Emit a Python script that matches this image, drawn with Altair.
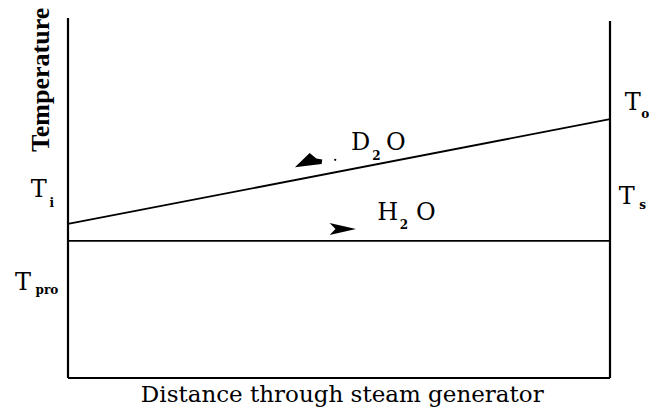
import altair as alt
import pandas as pd

# Schematic values (x: distance 0..100, y: temperature, arbitrary units)
d2o_x = [0, 100]
d2o_y = [42.8, 71.9]
h2o_x = [0, 100]
h2o_y = [38.1, 38.1]

# box lines (left, right, bottom)
box_x = [0, 100, 0]
box_x2 = [0, 100, 100]
box_y = [0, 0, 0]
box_y2 = [100, 99.2, 0]

# main labels
lab_text = ["T", "T", "T", "T", "D", "O", "H", "O"]
lab_x = [-5.4, -8.3, 104.2, 103.1, 54.0, 60.5, 59.0, 66.0]
lab_y = [52.2, 26.4, 76.4, 50.3, 65.3, 65.3, 45.8, 45.8]

# subscripts
sub_text = ["i", "pro", "o", "s", "2", "2"]
sub_x = [-3.0, -3.9, 106.5, 106.0, 56.9, 62.0]
sub_y = [48.6, 24.4, 73.4, 48.0, 61.8, 42.6]

# arrows
arr_x = [44.3, 50.7]
arr_y = [60.4, 41.4]
arr_dir = ["left", "right"]

W, H = 542, 360
xs = alt.Scale(domain=[0, 100], nice=False, zero=False)
ys = alt.Scale(domain=[0, 100], nice=False, zero=False)
FONT = "DejaVu Serif"

box = alt.Chart(pd.DataFrame({"x": box_x, "x2": box_x2, "y": box_y, "y2": box_y2})).mark_rule(
    color="black", strokeWidth=2.2
).encode(
    x=alt.X("x:Q", scale=xs, axis=None),
    x2="x2:Q",
    y=alt.Y("y:Q", scale=ys, axis=None),
    y2="y2:Q",
)

lines_df = pd.DataFrame({
    "x": d2o_x + h2o_x,
    "y": d2o_y + h2o_y,
    "s": ["D2O"] * 2 + ["H2O"] * 2,
})
lines = alt.Chart(lines_df).mark_line(color="black", strokeWidth=1.8).encode(
    x=alt.X("x:Q", scale=xs, axis=None),
    y=alt.Y("y:Q", scale=ys, axis=None),
    detail="s:N",
)

labels = alt.Chart(pd.DataFrame({"t": lab_text, "x": lab_x, "y": lab_y})).mark_text(
    font=FONT, fontSize=24, color="black", align="center", baseline="middle"
).encode(
    x=alt.X("x:Q", scale=xs, axis=None),
    y=alt.Y("y:Q", scale=ys, axis=None),
    text="t:N",
)

subs = alt.Chart(pd.DataFrame({"t": sub_text, "x": sub_x, "y": sub_y})).mark_text(
    font=FONT, fontSize=12, fontWeight="bold", color="black", align="center", baseline="middle"
).encode(
    x=alt.X("x:Q", scale=xs, axis=None),
    y=alt.Y("y:Q", scale=ys, axis=None),
    text="t:N",
)

arr_df = pd.DataFrame({"x": arr_x, "y": arr_y, "d": arr_dir})
arrow_left = alt.Chart(arr_df[arr_df.d == "left"]).mark_point(
    shape="M-1,0.3 L0.2,-0.5 L0.6,-0.05 L1,0.1 L0.9,0.4 Z", filled=True, color="black",
    opacity=1, size=800, angle=350
).encode(
    x=alt.X("x:Q", scale=xs, axis=None),
    y=alt.Y("y:Q", scale=ys, axis=None),
)
arrow_right = alt.Chart(arr_df[arr_df.d == "right"]).mark_point(
    shape="M1,0 L-1,-0.45 L-0.55,0 L-1,0.45 Z", filled=True, color="black",
    opacity=1, size=700
).encode(
    x=alt.X("x:Q", scale=xs, axis=None),
    y=alt.Y("y:Q", scale=ys, axis=None),
)

dot = alt.Chart(pd.DataFrame({"x": [49.3], "y": [60.6]})).mark_point(
    shape="circle", filled=True, color="black", opacity=1, size=5
).encode(
    x=alt.X("x:Q", scale=xs, axis=None),
    y=alt.Y("y:Q", scale=ys, axis=None),
)

ytitle = alt.Chart(pd.DataFrame({"t": ["Temperature"], "x": [-5.0], "y": [82.8]})).mark_text(
    font="Liberation Serif", fontSize=26, fontWeight="bold", color="black",
    align="center", baseline="middle", angle=270
).encode(
    x=alt.X("x:Q", scale=xs, axis=None),
    y=alt.Y("y:Q", scale=ys, axis=None),
    text="t:N",
)

xtitle = alt.Chart(pd.DataFrame({"t": ["Distance through steam generator"], "x": [50.6], "y": [-4.7]})).mark_text(
    font=FONT, fontSize=23, color="black", align="center", baseline="middle"
).encode(
    x=alt.X("x:Q", scale=xs, axis=None),
    y=alt.Y("y:Q", scale=ys, axis=None),
    text="t:N",
)

chart = alt.layer(box, lines, labels, subs, arrow_left, arrow_right, dot, ytitle, xtitle).properties(
    width=W, height=H,
    autosize=alt.AutoSizeParams(type="none"),
    padding={"left": 60, "top": 10, "right": 39, "bottom": 29},
    background="white",
).configure_view(stroke=None)

chart.save("out.html", embed_options={"renderer": "svg", "actions": False})
